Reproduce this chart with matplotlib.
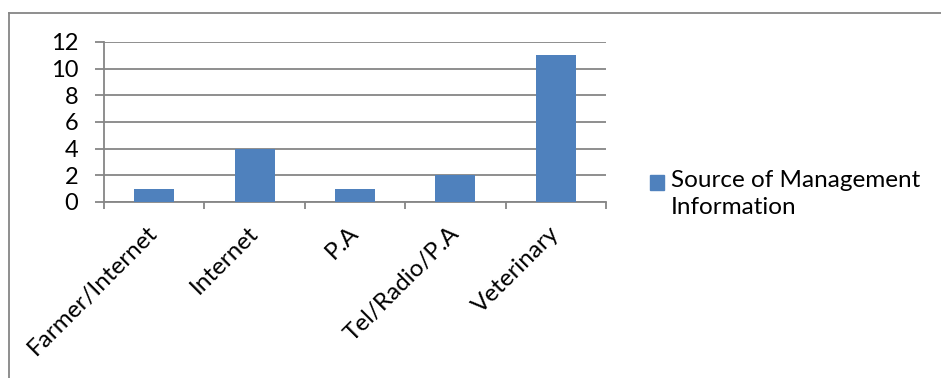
import matplotlib
matplotlib.use("Agg")
import matplotlib.pyplot as plt
from matplotlib.lines import Line2D
from matplotlib.patches import Rectangle

categories = ["Farmer/Internet", "Internet", "P.A", "Tel/Radio/P.A", "Veterinary"]
values = [1, 4, 1, 2, 11]
yticks = [0, 2, 4, 6, 8, 10, 12]
series_name = "Source of Management\nInformation"

plt.rcParams['font.family'] = ['Lato', 'DejaVu Sans']

W, H = 941, 378
fig = plt.figure(figsize=(W / 100, H / 100), dpi=100)
ax = fig.add_axes([104 / W, 1 - 202 / H, (606 - 104) / W, (202 - 42) / H])

grid_c = "#868686"
bar_c = "#4F81BD"

x = list(range(len(categories)))
ax.bar(x, values, width=0.4, color=bar_c, zorder=3, label=series_name)
ax.set_xlim(-0.5, len(categories) - 0.5)
ax.set_ylim(0, 12)
ax.set_yticks(yticks)
ax.set_yticklabels([str(t) for t in yticks], fontsize=17)
ax.yaxis.grid(True, color=grid_c, linewidth=1.3, zorder=0)
ax.set_axisbelow(True)

for s in ["top", "right"]:
    ax.spines[s].set_visible(False)
for s in ["left", "bottom"]:
    ax.spines[s].set_color(grid_c)
    ax.spines[s].set_linewidth(1.3)

ax.tick_params(axis="y", length=6.5, color=grid_c, width=1.3, pad=12, labelcolor="black")
ax.set_xticks([i - 0.5 for i in range(len(categories) + 1)], minor=False)
ax.set_xticklabels([])
ax.tick_params(axis="x", which="major", length=5, color=grid_c, width=1.3)
ax.set_xticks(x, minor=True)
ax.set_xticklabels(categories, minor=True, rotation=45, ha="right", va="center",
                   rotation_mode="anchor", fontsize=17.5)
ax.tick_params(axis="x", which="minor", length=0, pad=20)

# legend (Excel style: marker aligned with the first line)
fig.add_artist(Rectangle((650 / W, 1 - 190 / H), 14 / W, 15 / H,
                         transform=fig.transFigure, color=bar_c))
t = fig.text(671 / W, 1 - 170 / H, series_name, fontsize=17.5, va="top", ha="left",
             linespacing=1.35)

# figure frame (top and left visible)
fig.add_artist(Line2D([9 / W, 9 / W], [0, 1 - 13 / H], transform=fig.transFigure,
                      color=grid_c, linewidth=1.3))
fig.add_artist(Line2D([9 / W, 1], [1 - 13 / H, 1 - 13 / H], transform=fig.transFigure,
                      color=grid_c, linewidth=1.3))

fig.savefig("out.png", dpi=100)
